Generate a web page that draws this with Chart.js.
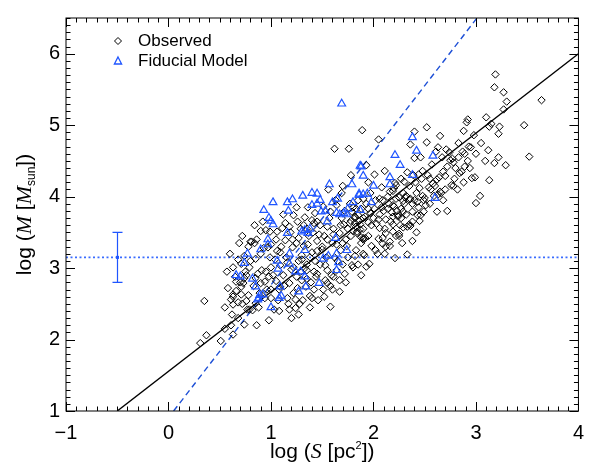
<!DOCTYPE html>
<html>
<head>
<meta charset="utf-8">
<script src="https://cdn.jsdelivr.net/npm/chart.js@4.4.1/dist/chart.umd.min.js"></script>
<style>body{margin:0;background:#fff}</style>
</head>
<body>
<canvas id="chart" width="594" height="470"></canvas>
<script>
// observed points: log S, log M
const obsLogS = [
  1.89,1.62,1.76,1.56,1.69,1.22,1.33,0.90,0.95,0.99,1.06,0.80,0.78,1.18,1.42,1.55,1.71,1.79,0.63,0.71,
  0.79,0.65,0.74,0.71,0.63,0.71,0.61,0.87,0.90,0.98,0.85,0.94,0.79,0.82,1.00,1.08,1.16,1.24,0.98,0.74,
  0.61,0.63,1.58,1.67,1.38,1.40,1.34,1.26,1.09,1.18,1.00,1.09,1.16,1.27,1.30,1.38,1.45,1.50,1.55,1.53,
  1.61,1.67,1.72,1.79,1.82,1.88,1.80,1.90,1.74,1.64,1.32,1.36,1.21,1.06,1.09,0.97,0.85,0.90,1.05,1.14,
  1.21,1.27,1.37,1.47,1.61,1.67,1.84,1.87,1.82,1.85,1.90,1.77,1.83,1.90,1.88,1.90,1.82,1.87,1.69,1.64,
  1.58,1.51,1.43,1.40,1.45,1.32,1.35,1.26,1.14,1.11,1.00,0.74,0.66,0.70,1.03,1.18,1.24,1.51,1.53,1.55,
  1.64,1.42,1.45,1.44,1.29,1.35,1.22,1.30,1.35,
  3.19,3.18,3.27,3.30,3.27,3.64,2.05,2.40,2.52,2.65,2.36,2.52,2.92,2.91,3.10,3.13,3.23,3.22,3.47,3.52,
  3.22,3.18,3.29,3.09,3.13,3.04,3.00,2.88,2.98,2.83,2.93,2.95,2.87,2.89,2.71,2.63,2.61,2.46,2.40,2.75,
  2.78,2.77,2.89,2.84,2.86,2.82,2.96,2.99,2.70,2.62,2.64,2.65,2.66,2.63,2.59,2.62,2.72,2.76,2.78,2.54,
  2.56,2.48,2.50,2.49,2.51,2.33,2.39,2.44,2.48,2.27,2.30,2.21,2.22,2.11,2.01,1.93,1.95,2.08,2.16,2.19,
  2.32,2.31,2.36,2.40,2.43,2.49,2.38,2.43,2.24,2.27,2.19,2.33,2.36,2.25,2.12,2.06,2.05,2.09,2.16,2.38,
  1.90,1.84,1.77,1.82,1.88,1.95,2.01,2.06,2.09,2.22,2.25,2.29,2.14,2.19,
  2.45,2.35,2.29,2.33,2.21,2.16,2.09,2.11,2.04,1.96,1.93,1.91,1.98,1.92,2.25,2.22,2.19,2.29,2.24,2.19,
  2.38,2.46,
  0.35,0.63,0.73,0.81,0.84,0.68,0.63,0.76,0.77,0.89,0.85,0.76,0.94,0.37,0.31,0.51,
  1.75,1.78,1.80,1.83,1.86,1.92,1.95,1.97,2.00,2.03,2.06,2.10,2.12,2.15,2.18,2.20,2.27,2.30,2.35,2.42,
  2.45,2.55,2.58,2.68,2.72,2.80,2.92,1.60,1.55,1.50,1.45,1.40,1.35,1.30,1.25,1.20,1.12,1.05,1.00,0.95,
  1.62,1.70,1.73,1.68,1.48,1.58,1.42,1.28,
  0.55,0.58,0.62,0.66,0.68,0.72,0.75,0.78,0.80,0.83,0.86,0.88,0.91,0.93,0.96,0.99,0.57,0.60,0.69,0.72,
  0.84,0.92,0.55,0.68,0.86,
  1.02,1.04,1.07,1.10,1.13,1.15,1.17,1.19,1.22,1.25,1.27,1.29,1.31,1.33,1.36,1.39,1.41,1.43,1.46,1.48,
  1.12,1.25,1.20,1.38,1.08,
  1.52,1.54,1.57,1.59,1.61,1.63,1.65,1.68,1.70,1.72,1.75,1.78,1.80,1.83,1.85,1.88,1.90,1.93,1.95,1.98,
  1.52,1.60,1.73,1.85,1.97,1.70,1.78,
  2.02,2.05,2.08,2.11,2.14,2.17,2.20,2.23,2.26,2.29,2.32,2.35,2.38,2.41,2.44,2.47,2.12,2.28,2.42,2.02,
  2.53,2.57,2.60,2.67,2.70,2.74,2.79,2.83,2.88,2.94,3.00,3.05,3.12,3.15,2.55,2.68
];
const obsLogM = [
  4.93,4.67,4.67,4.10,4.05,3.74,3.71,3.52,3.53,3.51,3.51,3.37,3.30,3.58,3.63,3.58,3.61,3.79,3.01,3.06,
  3.01,2.88,2.86,2.74,2.63,2.63,2.56,2.92,2.79,2.88,2.51,2.58,2.42,2.41,2.58,2.70,2.58,2.56,2.27,2.21,
  2.20,2.07,2.46,2.67,2.61,2.58,2.74,2.72,2.74,2.79,3.01,3.04,3.08,3.10,3.12,3.15,3.24,3.26,2.97,3.04,
  2.88,2.83,2.92,3.04,3.17,2.90,3.01,3.20,3.31,3.33,3.31,3.33,3.29,3.24,3.22,3.29,3.13,3.20,3.40,3.39,
  3.40,3.42,3.45,3.47,3.47,3.49,3.51,3.54,3.72,3.74,3.70,3.90,3.83,3.97,3.43,3.40,3.63,3.61,3.70,3.88,
  3.79,3.86,3.77,3.67,3.65,3.60,3.55,3.65,3.63,3.56,3.33,3.17,2.81,2.80,2.42,2.42,2.44,2.70,2.83,2.79,
  2.97,2.95,2.92,2.88,2.95,2.97,3.01,2.83,2.85,
  5.71,5.53,5.46,5.33,5.22,5.35,4.80,4.91,4.97,4.85,4.73,4.76,5.08,5.04,5.11,4.98,4.98,4.88,5.00,4.56,
  4.55,4.47,4.44,4.50,4.23,4.01,3.91,4.92,4.86,4.75,4.70,4.69,4.63,4.60,4.66,4.69,4.63,4.55,4.54,4.51,
  4.48,4.53,4.42,4.33,4.35,4.10,4.26,4.27,4.29,4.24,4.27,4.07,4.05,4.03,4.01,3.79,3.80,4.16,4.15,4.13,
  4.10,4.01,3.98,3.95,3.88,4.34,4.30,4.31,4.36,4.25,4.21,4.19,4.16,4.36,4.31,4.44,4.20,4.13,4.07,4.08,
  4.01,3.99,3.97,3.95,3.93,3.79,3.65,3.74,3.72,3.70,3.61,3.58,3.59,3.45,3.49,3.56,3.41,3.42,3.37,3.38,
  3.42,3.49,3.63,3.70,3.83,3.83,3.83,3.97,3.95,3.97,3.99,3.94,3.83,3.88,
  3.66,3.61,3.57,3.19,3.14,3.31,3.34,3.20,3.20,3.06,3.02,3.18,3.31,3.42,3.48,3.45,3.51,3.79,3.74,3.72,
  3.79,3.74,
  2.54,2.60,2.79,3.37,3.35,2.52,2.49,2.54,2.42,2.65,2.86,2.90,2.81,2.06,1.95,1.98,
  3.55,3.66,3.52,3.58,3.66,3.72,3.64,3.77,3.70,3.62,3.75,3.80,3.68,3.90,3.78,3.86,3.83,3.90,3.96,4.05,
  4.12,4.25,4.18,4.35,4.42,4.40,4.50,3.35,3.40,3.30,3.38,3.22,3.05,3.18,2.88,2.98,2.90,2.82,2.70,2.95,
  3.15,3.05,3.40,3.25,3.05,2.75,2.70,2.50,
  2.45,2.72,2.35,2.68,3.12,2.50,2.95,2.62,3.10,2.75,3.40,2.45,2.97,3.28,2.70,3.15,2.95,3.20,3.35,3.45,
  3.60,3.65,2.15,2.30,2.20,
  2.90,3.12,2.55,3.30,2.75,3.15,2.50,3.50,2.65,3.35,2.35,3.55,2.55,3.00,3.85,2.80,3.50,3.10,2.55,3.60,
  3.75,3.85,2.30,2.45,2.40,
  3.45,3.15,3.70,2.90,3.55,3.95,3.10,3.60,3.35,3.80,3.15,3.45,3.85,3.25,3.95,3.35,3.55,3.90,3.45,3.60,
  2.60,2.70,2.80,3.05,4.05,4.15,4.30,
  3.95,3.68,3.85,3.55,4.00,3.65,4.12,3.80,3.60,4.05,3.75,4.15,3.90,4.20,3.85,4.25,3.30,3.35,3.50,3.25,
  4.30,4.45,4.15,4.55,4.10,4.62,4.25,4.55,4.20,4.40,4.60,4.75,4.65,5.02,3.90,3.95
];

// fiducial model points: log S, log M
const modelLogS = [
  1.88,1.90,1.79,1.57,1.40,1.45,1.31,1.21,1.16,1.02,1.17,0.93,0.98,1.00,1.02,1.40,1.45,1.48,1.49,1.53,
  1.60,1.65,1.64,1.67,1.71,1.74,1.86,1.90,1.87,1.55,1.30,1.33,1.38,1.36,1.16,0.97,0.90,0.77,0.74,0.66,
  0.70,0.82,1.06,1.07,1.18,1.18,1.33,1.24,1.29,1.33,1.47,1.34,1.27,1.09,1.10,1.08,1.00,0.89,0.88,0.92,
  1.63,1.64,1.66,1.74,1.64,1.56,1.51,
  2.38,2.42,2.21,2.26,2.58,1.87,2.00,2.16,2.16,2.38,1.86,1.94,1.98,1.80,1.75,2.60,
  1.69,0.85,0.87,0.97
];
const modelLogM = [
  4.42,4.29,4.17,4.17,4.05,4.04,4.01,3.96,3.92,3.92,3.80,3.81,3.70,3.66,3.61,3.88,3.90,3.95,3.79,3.80,
  3.92,3.97,3.77,3.75,3.77,3.75,4.02,4.03,3.81,3.65,3.51,3.53,3.55,3.49,3.49,3.40,3.26,3.20,3.07,2.90,
  2.88,2.85,3.10,2.99,3.20,3.06,3.25,2.95,2.95,2.88,2.79,2.74,2.67,2.74,2.61,2.58,2.45,2.62,2.58,2.63,
  3.42,3.20,3.08,3.25,2.97,3.17,3.13,
  4.83,4.64,4.58,4.44,4.57,4.43,4.15,4.27,4.17,4.30,4.04,4.04,3.92,3.92,3.83,3.98,
  5.30,2.74,2.56,3.33
];

// fitted relations and the reference level with its error bar
const fitLogS = [-0.5, 4.0];
const fitLogM = [1.0, 6.0];
const modelFitLogS = [0.05, 3.01];
const modelFitLogM = [1.0, 6.5];
const refLogM = 3.15;
const errLogS = -0.5;
const errLogM = [2.8, 3.5];

const xRange = [-1, 4];
const yRange = [1, 6.5];
const xTicks = [-1, 0, 1, 2, 3, 4];
const yTicks = [1, 2, 3, 4, 5, 6];

const BLUE = '#1f55ff';
const SANS = '"Liberation Sans", Arial, sans-serif';
const SERIF = '"Liberation Serif", "Times New Roman", serif';

const toPoints = (xs, ys) => xs.map((x, i) => ({ x, y: ys[i] }));

function drawRich(ctx, parts, x, y, rotate) {
  ctx.save();
  ctx.translate(x, y);
  if (rotate) ctx.rotate(-Math.PI / 2);
  let w = 0;
  parts.forEach(p => { ctx.font = p.font; w += ctx.measureText(p.t).width; });
  let cx = -w / 2;
  ctx.textBaseline = 'alphabetic';
  ctx.textAlign = 'left';
  ctx.fillStyle = '#000';
  parts.forEach(p => {
    ctx.font = p.font;
    ctx.fillText(p.t, cx, p.dy || 0);
    cx += ctx.measureText(p.t).width;
  });
  ctx.restore();
}

const framePlugin = {
  id: 'frame',
  afterDatasetsDraw(chart) {
    const { ctx, chartArea: a, scales: { x, y } } = chart;
    ctx.save();
    ctx.strokeStyle = '#000';
    ctx.lineWidth = 1;
    ctx.strokeRect(a.left, a.top, a.right - a.left, a.bottom - a.top);

    // inward ticks on all four sides
    ctx.beginPath();
    for (let i = 0; i <= 50; i++) {
      const v = xRange[0] + i * 0.1;
      const px = Math.round(x.getPixelForValue(v)) + 0.5;
      const len = i % 10 === 0 ? 9 : 4.5;
      ctx.moveTo(px, a.bottom); ctx.lineTo(px, a.bottom - len);
      ctx.moveTo(px, a.top); ctx.lineTo(px, a.top + len);
    }
    for (let i = 0; i <= 55; i++) {
      const v = yRange[0] + i * 0.1;
      const py = Math.round(y.getPixelForValue(v)) + 0.5;
      const len = i % 10 === 0 ? 9 : 4.5;
      ctx.moveTo(a.left, py); ctx.lineTo(a.left + len, py);
      ctx.moveTo(a.right, py); ctx.lineTo(a.right - len, py);
    }
    ctx.stroke();

    // error bar
    const ex = Math.round(x.getPixelForValue(errLogS)) + 0.5;
    const e1 = y.getPixelForValue(errLogM[0]);
    const e2 = y.getPixelForValue(errLogM[1]);
    const ec = y.getPixelForValue(refLogM);
    ctx.strokeStyle = BLUE;
    ctx.lineWidth = 1.2;
    ctx.beginPath();
    ctx.moveTo(ex, e1); ctx.lineTo(ex, e2);
    ctx.moveTo(ex - 5, e1); ctx.lineTo(ex + 5, e1);
    ctx.moveTo(ex - 5, e2); ctx.lineTo(ex + 5, e2);
    ctx.stroke();
    ctx.fillStyle = BLUE;
    ctx.fillRect(ex - 1.5, ec - 1.5, 3, 3);

    // legend
    const lx = 118;
    ctx.strokeStyle = '#000';
    ctx.lineWidth = 1;
    ctx.beginPath();
    ctx.moveTo(lx, 41 - 3.5); ctx.lineTo(lx + 3.5, 41); ctx.lineTo(lx, 41 + 3.5); ctx.lineTo(lx - 3.5, 41); ctx.closePath();
    ctx.stroke();
    ctx.strokeStyle = BLUE;
    ctx.lineWidth = 1.3;
    ctx.beginPath();
    ctx.moveTo(lx, 57); ctx.lineTo(lx + 3.6, 64); ctx.lineTo(lx - 3.6, 64); ctx.closePath();
    ctx.stroke();
    ctx.fillStyle = '#000';
    ctx.font = '17px ' + SANS;
    ctx.textBaseline = 'middle';
    ctx.fillText('Observed', 138, 41);
    ctx.fillText('Fiducial Model', 138, 61);

    // axis titles
    const cxTitle = (a.left + a.right) / 2;
    const cyTitle = (a.top + a.bottom) / 2;
    drawRich(ctx, [
      { t: 'log (', font: '21px ' + SANS },
      { t: 'S', font: 'italic 22px ' + SERIF },
      { t: ' [pc', font: '21px ' + SANS },
      { t: '2', font: '11px ' + SANS, dy: -9 },
      { t: '])', font: '21px ' + SANS }
    ], cxTitle, 458, false);
    drawRich(ctx, [
      { t: 'log (', font: '21px ' + SANS },
      { t: 'M', font: 'italic 22px ' + SERIF },
      { t: ' [', font: '21px ' + SANS },
      { t: 'M', font: 'italic 22px ' + SERIF },
      { t: 'sun', font: '12px ' + SANS, dy: 4 },
      { t: '])', font: '21px ' + SANS }
    ], 31, cyTitle, true);
    ctx.restore();
  }
};

new Chart(document.getElementById('chart'), {
  type: 'scatter',
  data: {
    datasets: [
      {
        label: 'Fiducial Model',
        data: toPoints(modelLogS, modelLogM),
        pointStyle: 'triangle',
        pointRadius: 4.5,
        borderColor: BLUE,
        borderWidth: 1.2,
        backgroundColor: 'rgba(0,0,0,0)'
      },
      {
        label: 'Observed',
        data: toPoints(obsLogS, obsLogM),
        pointStyle: 'rectRot',
        pointRadius: 3.7,
        borderColor: '#000',
        borderWidth: 1,
        backgroundColor: 'rgba(0,0,0,0)'
      },
      {
        label: 'fit',
        data: toPoints(fitLogS, fitLogM),
        showLine: true,
        pointRadius: 0,
        borderColor: '#000',
        borderWidth: 1.4
      },
      {
        label: 'model fit',
        data: toPoints(modelFitLogS, modelFitLogM),
        showLine: true,
        pointRadius: 0,
        borderColor: '#1d4fd6',
        borderWidth: 1.4,
        borderDash: [6, 4]
      },
      {
        label: 'reference',
        data: toPoints(xRange, [refLogM, refLogM]),
        showLine: true,
        pointRadius: 0,
        borderColor: '#3a6cff',
        borderWidth: 1.6,
        borderDash: [2, 2.5]
      }
    ]
  },
  options: {
    responsive: false,
    animation: false,
    devicePixelRatio: 1,
    layout: { padding: { left: 0, right: 9.5, top: 8, bottom: 0 } },
    plugins: { legend: { display: false }, tooltip: { enabled: false } },
    scales: {
      x: {
        type: 'linear',
        min: xRange[0],
        max: xRange[1],
        afterBuildTicks: s => { s.ticks = xTicks.map(v => ({ value: v })); },
        afterFit: s => { s.height = 59; },
        grid: { display: false, drawTicks: false },
        border: { display: false },
        ticks: {
          color: '#000',
          padding: 10,
          font: { family: SANS, size: 20 },
          maxRotation: 0,
          callback: v => String(v).replace('-', '\u2212')
        }
      },
      y: {
        type: 'linear',
        min: yRange[0],
        max: yRange[1],
        afterBuildTicks: s => { s.ticks = yTicks.map(v => ({ value: v })); },
        afterFit: s => { s.width = 66; },
        grid: { display: false, drawTicks: false },
        border: { display: false },
        ticks: {
          color: '#000',
          padding: 6,
          font: { family: SANS, size: 20 }
        }
      }
    }
  },
  plugins: [framePlugin]
});
</script>
</body>
</html>
